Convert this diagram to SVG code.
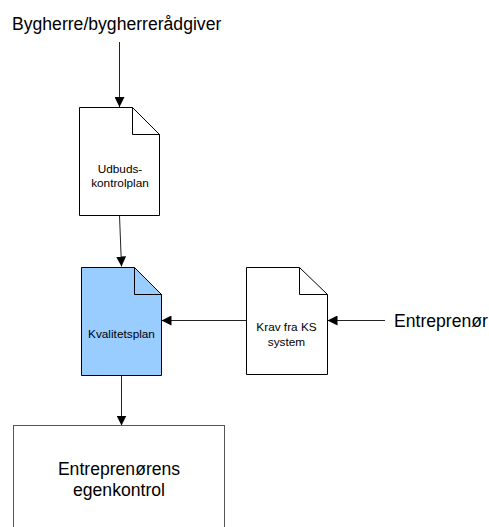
<svg xmlns="http://www.w3.org/2000/svg" width="489" height="527" viewBox="0 0 489 527">
  <style>
    .doc { stroke: #000; stroke-width: 1; }
    .plain { fill: #fff; }
    .blue { fill: #99ccff; }
    .fold { fill: none; stroke: #000; stroke-width: 1; }
    .box { fill: #fff; stroke: #555; stroke-width: 1; }
    .conn { stroke: #222; stroke-width: 1; fill: none; marker-end: url(#arrow); }
    .lbl { font-family: "Liberation Sans", Arial, sans-serif; fill: #000; }
    .big { font-size: 17.6px; }
    .small { font-size: 11.8px; }
  </style>
  <defs>
    <marker id="arrow" viewBox="0 0 10 10" refX="10" refY="5" markerWidth="10" markerHeight="10" markerUnits="userSpaceOnUse" orient="auto">
      <path d="M0,0 L10,5 L0,10 z" fill="#000"/>
    </marker>
  </defs>
  <rect width="489" height="527" fill="#fff"/>

  <g id="connectors">
    <line class="conn" x1="119.5" y1="42" x2="119.5" y2="107"/>
    <line class="conn" x1="119.5" y1="215.5" x2="121.5" y2="266.5"/>
    <line class="conn" x1="246" y1="320.5" x2="161.5" y2="320.5"/>
    <line class="conn" x1="385" y1="320.5" x2="327.5" y2="320.5"/>
    <line class="conn" x1="121.5" y1="375.5" x2="121.5" y2="425.5"/>
  </g>

  <g id="bygherre">
    <text class="lbl big" x="12" y="30">Bygherre/bygherrerådgiver</text>
  </g>

  <g id="udbudskontrolplan">
    <path class="doc plain" d="M79.5,107.5 H132.5 L159.5,134.5 V215.5 H79.5 Z"/>
    <path class="fold" d="M132.5,107.5 V134.5 H159.5"/>
    <text class="lbl small" text-anchor="middle" x="120" y="172.5">Udbuds-</text>
    <text class="lbl small" text-anchor="middle" x="120" y="186.5">kontrolplan</text>
  </g>

  <g id="kvalitetsplan">
    <path class="doc blue" d="M81.5,267.5 H134.5 L161.5,294.5 V375.5 H81.5 Z"/>
    <path class="fold" d="M134.5,267.5 V294.5 H161.5"/>
    <text class="lbl small" text-anchor="middle" x="121.5" y="337.5">Kvalitetsplan</text>
  </g>

  <g id="krav">
    <path class="doc plain" d="M246.5,267.5 H299.5 L327.5,294.5 V374.5 H246.5 Z"/>
    <path class="fold" d="M299.5,267.5 V294.5 H327.5"/>
    <text class="lbl small" text-anchor="middle" x="286.5" y="331">Krav fra KS</text>
    <text class="lbl small" text-anchor="middle" x="286.5" y="346">system</text>
  </g>

  <g id="entreprenor">
    <text class="lbl big" x="394" y="326.5">Entreprenør</text>
  </g>

  <g id="egenkontrol">
    <rect class="box" x="13.5" y="425.5" width="211" height="110"/>
    <text class="lbl big" text-anchor="middle" x="119" y="475">Entreprenørens</text>
    <text class="lbl big" text-anchor="middle" x="119" y="495.5">egenkontrol</text>
  </g>
</svg>
